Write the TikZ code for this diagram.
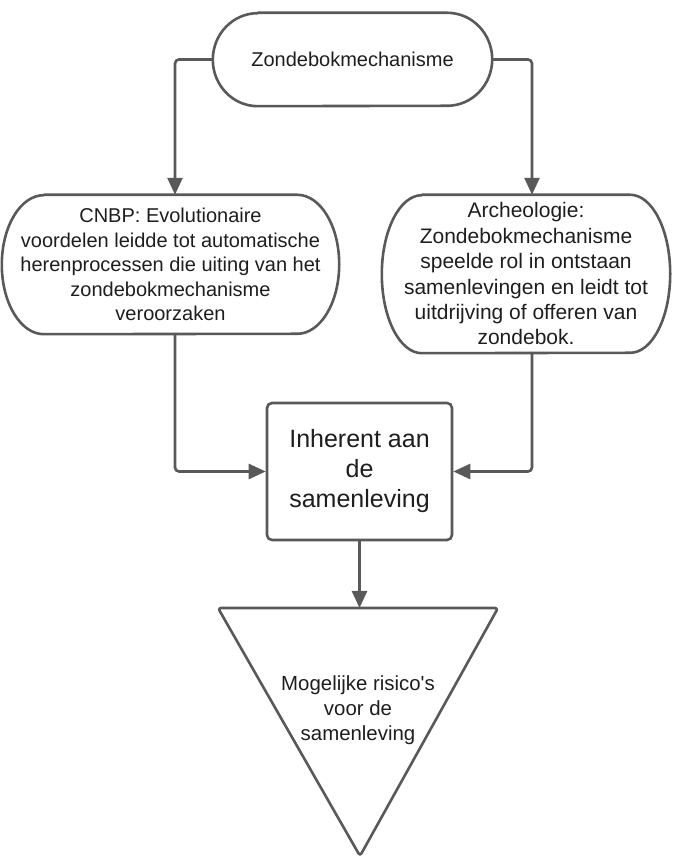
\documentclass[tikz,border=0pt]{standalone}
\usepackage{fontspec}
\setmainfont{Liberation Sans}
\usetikzlibrary{arrows.meta}
\definecolor{ln}{HTML}{595959}
\definecolor{tx}{HTML}{1E1E1E}
\tikzset{
 conn/.style={draw=ln, line width=2.6pt, -{Triangle[length=17pt,width=15pt]}, rounded corners=4pt},
 shapeline/.style={draw=ln, line width=2.6pt, line join=round},
 txt/.style={text=tx, align=center, inner sep=0pt},
}
\newcommand{\pillpath}[3]{%
 \draw[shapeline] ([xshift=#2]#1.north west) -- ([xshift=-#2]#1.north east)
   arc[start angle=90,end angle=-90,x radius=#2,y radius=#3]
   -- ([xshift=#2]#1.south west)
   arc[start angle=270,end angle=90,x radius=#2,y radius=#3] -- cycle;}
\begin{document}
\begin{tikzpicture}[x=1pt,y=1pt]
\useasboundingbox (0,0) rectangle (673,858);
\fill[white] (0,0) rectangle (673,858);

\node[txt, minimum width=279pt, minimum height=93pt, font=\fontsize{20}{24}\selectfont] (top) at (352.5,798.5) {Zondebokmechanisme};
\pillpath{top}{45pt}{46.5pt}

\node[txt, minimum width=337pt, minimum height=139pt, font=\fontsize{20}{24.5}\selectfont] (left) at (170.5,593.5)
 {CNBP: Evolutionaire\\voordelen leidde tot automatische\\herenprocessen die uiting van het\\zondebokmechanisme\\veroorzaken};
\pillpath{left}{42pt}{69.5pt}

\node[txt, minimum width=288pt, minimum height=158pt, font=\fontsize{21}{25.4}\selectfont] (right) at (526,584)
 {Archeologie:\\Zondebokmechanisme\\speelde rol in ontstaan\\samenlevingen en leidt tot\\uitdrijving of offeren van\\zondebok.};
\pillpath{right}{40pt}{79pt}

\node[txt, draw=ln, line width=2.6pt, rounded corners=5pt, minimum width=185pt, minimum height=137pt, font=\fontsize{25}{30}\selectfont] (box) at (359.5,386.5)
 {Inherent aan\\de\\samenleving};

\coordinate (tl) at (218,250);
\coordinate (tr) at (498,250);
\coordinate (tb) at (360,2);
\draw[shapeline, rounded corners=3pt] (tl) -- (tr) -- (tb) -- cycle;
\node[txt, font=\fontsize{20.4}{25}\selectfont] (risk) at (358,148) {Mogelijke risico\textquotesingle s\\voor de\\samenleving};

\coordinate (lcol) at (175,0);
\coordinate (rcol) at (532,0);
\draw[conn] (top.west) -| (left.north -| lcol);
\draw[conn] (top.east) -| (right.north -| rcol);
\draw[conn] (left.south -| lcol) |- (box.west);
\draw[conn] (right.south -| rcol) |- (box.east);
\draw[conn] (box.south) -- (box.south |- tl);
\end{tikzpicture}
\end{document}
